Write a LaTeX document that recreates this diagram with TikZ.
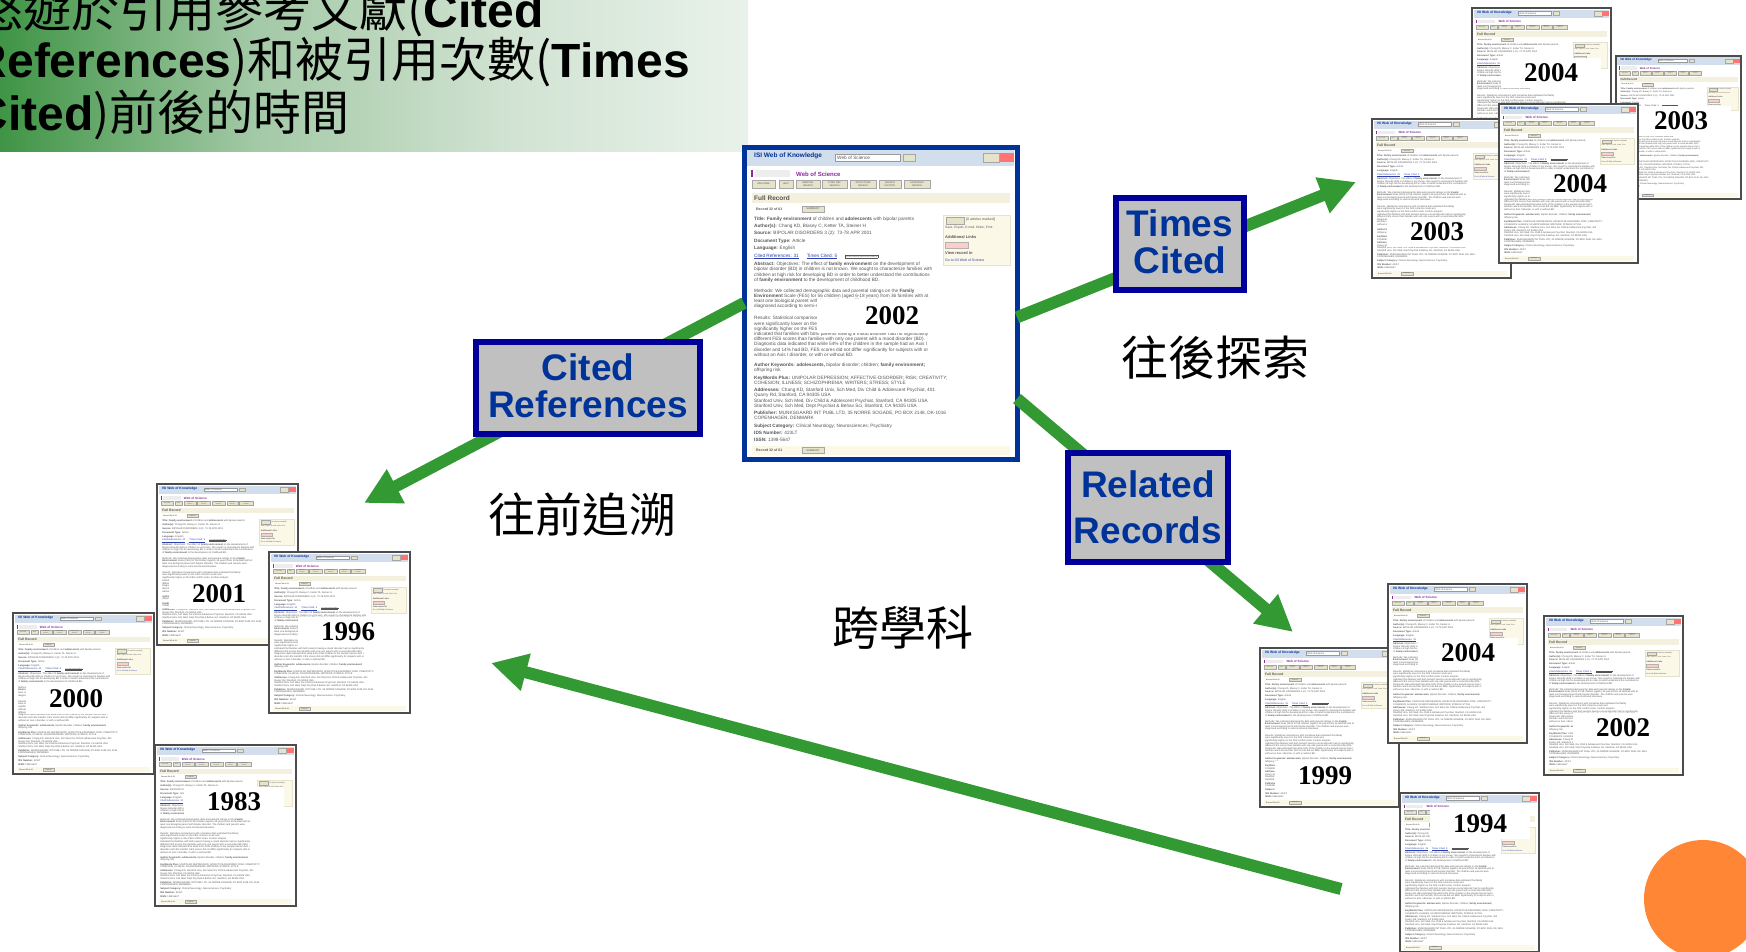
\documentclass[tikz,border=0pt]{standalone}
\usepackage{fontspec}
\setmainfont{Liberation Sans}
\newfontfamily\cjk{Noto Sans CJK TC}
\newfontfamily\yearfont{Liberation Serif}
\usetikzlibrary{positioning, arrows.meta}

\definecolor{headgreen}{HTML}{3F9445}
\definecolor{headmid}{HTML}{A3C9A6}
\definecolor{headlight}{HTML}{D0E2D1}
\definecolor{headpale}{HTML}{E9F2EA}
\definecolor{arrowgreen}{HTML}{339933}
\definecolor{boxblue}{HTML}{000099}
\definecolor{boxtext}{HTML}{003399}
\definecolor{boxgrey}{HTML}{C0C0C0}
\definecolor{frameblue}{HTML}{003399}
\definecolor{pagetitle}{HTML}{D3DEEC}
\definecolor{pagecream}{HTML}{F3F1DE}
\definecolor{pagepanel}{HTML}{FBF8E8}
\definecolor{pagebutton}{HTML}{E6E3CB}
\definecolor{pagetextgrey}{HTML}{555555}
\definecolor{pagelink}{HTML}{2A3FB0}
\definecolor{pagepurple}{HTML}{8A2A9A}
\definecolor{accentorange}{HTML}{FF8635}

\pgfdeclarehorizontalshading{headband}{100bp}{color(0bp)=(headgreen); color(25bp)=(headgreen); color(42bp)=(headmid); color(58.5bp)=(headlight); color(75bp)=(headpale); color(100bp)=(headpale)}

\newcommand{\headlatin}{\fontsize{48}{48}\selectfont\bfseries}
\newcommand{\headcjk}{\fontsize{48}{48}\selectfont\cjk}
\setlength{\fboxsep}{0.6pt}
\setlength{\fboxrule}{0.2pt}

\begin{document}
\begin{tikzpicture}[x=1pt,y=-1pt,
      linkarrow/.style={->,>={Triangle[length=36pt,width=36pt]},line width=12pt,draw=arrowgreen},
      linkbox/.style={draw=boxblue,line width=6pt,fill=boxgrey,text=boxtext,align=center,inner sep=0pt,text depth=4pt,
        font=\fontsize{37}{37}\selectfont\bfseries},
      caption/.style={inner sep=0pt,font=\fontsize{47}{47}\selectfont\cjk},
      headline/.style={anchor=base east,inner sep=0pt},
      yearlabel/.style={fill=white,inner sep=0pt,minimum width=100pt,minimum height=30pt,
        font=\fontsize{27}{27}\selectfont\yearfont\bfseries},
      pageframe/.style={draw=black!70,line width=1.5pt,fill=white,inner sep=0pt,outer sep=0pt,
        minimum width=273pt,minimum height=312pt,transform shape},
      mainpage/.style={pageframe/.append style={draw=frameblue,line width=5pt}},
      pagetext/.style={anchor=west,inner sep=0pt,transform shape,text=pagetextgrey,font=\fontsize{4.7}{5.2}\selectfont},
      pagebody/.style={anchor=north west,align=left,inner sep=0pt,transform shape,text=pagetextgrey,
        font=\fontsize{4.7}{5.2}\selectfont},
      pagebtn/.style={draw=black!35,line width=0.3pt,fill=pagebutton},
      recordpage/.pic={
        \node[pageframe] (-frame) at (138.5,158) {};
        % title bar
        \fill[pagetitle] (5,5) rectangle (272,21);
        \node[pagetext,text=boxtext,font=\fontsize{6.5}{6.5}\selectfont\bfseries] (-isi) at (12,11) {ISI Web of Knowledge};
        \filldraw[fill=white,draw=black!40,line width=0.3pt] (93,9) rectangle (158,16);
        \node[pagetext] (-search) at (95,12.5) {Web of Science};
        \filldraw[pagebtn] (161,9) rectangle (173,16);
        \filldraw[pagebtn] (241,8) rectangle (257,17);
        \fill[red!55] (258,8) rectangle (272,17);
        % logo and toolbar
        \fill[pagepurple] (9,25) rectangle (11,32);
        \fill[black!7] (13,25) rectangle (48,32);
        \node[pagetext,text=pagepurple,font=\fontsize{6}{6}\selectfont\bfseries] (-wos) at (54,29) {Web of Science};
        \foreach \xa/\xb/\toolname in {10/33/WELCOME,37/51/HELP,54/78/{GENERAL SEARCH},80/105/{CITED REF SEARCH},108/134/{STRUCTURE SEARCH},137/159/{SEARCH HISTORY},162/188/{ADVANCED SEARCH}} {
          \filldraw[pagebtn] (\xa,35) rectangle (\xb,43);
          \node[pagetext,anchor=center,text width=18pt,align=center,font=\fontsize{2.4}{2.6}\selectfont] (-tool\xa) at ({(\xa+\xb)/2},39) {\toolname};
        }
        \fill[pagecream] (10,48) rectangle (268,58);
        \node[pagetext,font=\fontsize{6.5}{6.5}\selectfont\bfseries] (-full) at (12,53) {Full Record};
        \node[pagetext,font=\fontsize{3.5}{3.5}\selectfont\bfseries] (-nav) at (14,64) {Record 32 of 61};
        \filldraw[pagebtn] (60,61) rectangle (82,67);
        \node[pagetext,anchor=center,font=\fontsize{2.6}{2.6}\selectfont] (-sum) at (71,64) {SUMMARY};
        % side panel
        \filldraw[fill=pagepanel,draw=pagebutton,line width=0.5pt] (201,70) rectangle (268,120);
        \filldraw[pagebtn] (204,72) rectangle (222,79);
        \node[pagetext,font=\fontsize{3.5}{3.5}\selectfont] (-marked) at (224,75) {[0 articles marked]};
        \node[pagetext,font=\fontsize{3.2}{3.2}\selectfont] (-save) at (203,83) {Save, Export, E-mail, Order, Print};
        \node[pagetext,font=\fontsize{4}{4}\selectfont\bfseries] (-links) at (203,92) {Additional Links};
        \filldraw[fill=red!20,draw=black!30,line width=0.3pt] (203,97) rectangle (226,103);
        \node[pagetext,font=\fontsize{4}{4}\selectfont\bfseries] (-view) at (203,108) {View record in};
        \node[pagetext,text=pagelink,font=\fontsize{3.5}{3.5}\selectfont] (-goto) at (203,115) {Go to ISI Web of Science};
        % record text
        \node[pagebody] (-body) at (12,71.5) {\textbf{Title: Family environment} of children and \textbf{adolescents} with bipolar parents\\[2.2pt]
          \textbf{Author(s):} Chang KD, Blasey C, Ketter TA, Steiner H\\[2.2pt]
          \textbf{Source:} BIPOLAR DISORDERS 3 (2): 73-78 APR 2001\\[2.2pt]
          \textbf{Document Type:} Article\\[2.2pt]
          \textbf{Language:} English\\[2.2pt]
          \textcolor{pagelink}{\underline{Cited References: 31}}\hspace{8pt}\textcolor{pagelink}{\underline{Times Cited: 5}}\hspace{8pt}\fbox{\fontsize{2.5}{2.5}\selectfont FIND RELATED RECORDS}\\[2.2pt]
          \textbf{Abstract:} Objectives: The effect of \textbf{family environment} on the development of\\
          bipolar disorder (BD) in children is not known. We sought to characterize families with\\
          children at high risk for developing BD in order to better understand the contributions\\
          of \textbf{family environment} to the development of childhood BD.\\[5.8pt]
          Methods: We collected demographic data and parental ratings on the \textbf{Family}\\
          \textbf{Environment} Scale (FES) for 56 children (aged 6-18 years) from 36 families with at\\
          least one biological parent with bipolar disorder. The children and parents were\\
          diagnosed according to semi-structured interviews.\\[6.8pt]
          Results: Statistical comparisons with normative data indicated that family\\
          were significantly lower on the FES cohesion scale and\\
          significantly higher on the FES conflict scale. Further analysis\\
          indicated that families with both parents having a mood disorder had no significantly\\
          different FES scores than families with only one parent with a mood disorder (BD).\\
          Diagnostic data indicated that while 54\% of the children in the sample had an Axis I\\
          disorder and 14\% had BD, FES scores did not differ significantly for subjects with or\\
          without an Axis I disorder, or with or without BD.\\[4.8pt]
          \textbf{Author Keywords: adolescents,} bipolar disorder; children; \textbf{family environment;}\\
          offspring risk\\[2.8pt]
          \textbf{KeyWords Plus:} UNIPOLAR DEPRESSION; AFFECTIVE-DISORDER; RISK; CREATIVITY;\\
          COHESION; ILLNESS; SCHIZOPHRENIA; WRITERS; STRESS; STYLE\\[1.8pt]
          \textbf{Addresses:} Chang KD, Stanford Univ, Sch Med, Div Child \& Adolescent Psychiat, 401\\
          Quarry Rd, Stanford, CA 94305 USA\\
          Stanford Univ, Sch Med, Div Child \& Adolescent Psychiat, Stanford, CA 94305 USA\\
          Stanford Univ, Sch Med, Dept Psychiat \& Behav Sci, Stanford, CA 94305 USA\\[1.8pt]
          \textbf{Publisher:} MUNKSGAARD INT PUBL LTD, 35 NORRE SOGADE, PO BOX 2148, DK-1016\\
          COPENHAGEN, DENMARK\\[2.8pt]
          \textbf{Subject Category:} Clinical Neurology; Neurosciences; Psychiatry\\[1.8pt]
          \textbf{IDS Number:} 423LT\\[1.8pt]
          \textbf{ISSN:} 1398-5647};
        % bottom bar
        \fill[pagepanel] (10,301) rectangle (268,310);
        \node[pagetext,font=\fontsize{3.5}{3.5}\selectfont\bfseries] (-navb) at (14,305.5) {Record 32 of 61};
        \filldraw[pagebtn] (60,302.5) rectangle (82,308.5);
        \node[pagetext,anchor=center,font=\fontsize{2.6}{2.6}\selectfont] (-sumb) at (71,305.5) {SUMMARY};
      }]

  \clip (0,0) rectangle (1746,951);

  % heading band
  \shade[shading=headband] (0,0) rectangle (748,151);
  \node[headline] (headone) at (544,27) {{\headcjk 悠遊於引用參考文獻(}{\headlatin Cited}};
  \node[headline] (headtwo) at (690,77) {{\headlatin References}{\headcjk )和被引用次數(}{\headlatin Times}};
  \node[headline] (headthree) at (350,130) {{\headlatin Cited}{\headcjk )前後的時間}};

  % times cited pages
  \pic[scale=.509] (timesa) at (1471,7) {recordpage};
  \node[yearlabel] (yeartimesa) at (1551,73) {2004};
  \pic[scale=.459] (timesb) at (1615,55) {recordpage};
  \node[yearlabel] (yeartimesb) at (1681,121) {2003};
  \pic[scale=.509] (timesc) at (1371,118) {recordpage};
  \node[yearlabel] (yeartimesc) at (1437,232) {2003};
  \pic[scale=.509] (timesd) at (1498,103) {recordpage};
  \node[yearlabel] (yeartimesd) at (1580,184) {2004};

  % related pages
  \pic[scale=.509] (relatedc) at (1259,647) {recordpage};
  \node[yearlabel] (yearrelatedc) at (1325,776) {1999};
  \pic[scale=.509] (relatedd) at (1399,792) {recordpage};
  \node[yearlabel] (yearrelatedd) at (1480,824) {1994};
  \pic[scale=.509] (relateda) at (1387,583) {recordpage};
  \node[yearlabel] (yearrelateda) at (1468,653) {2004};
  \pic[scale=.509] (relatedb) at (1543,615) {recordpage};
  \node[yearlabel] (yearrelatedb) at (1623,728) {2002};

  % cited pages
  \pic[scale=.516] (citeda) at (156,483) {recordpage};
  \node[yearlabel] (yearciteda) at (219,594) {2001};
  \pic[scale=.516] (citedb) at (268,551) {recordpage};
  \node[yearlabel] (yearcitedb) at (348,632) {1996};
  \pic[scale=.516] (citedc) at (12,612) {recordpage};
  \node[yearlabel] (yearcitedc) at (76,699) {2000};
  \pic[scale=.516] (citedd) at (154,744) {recordpage};
  \node[yearlabel] (yearcitedd) at (234,802) {1983};

  % main record
  \pic[mainpage] (main) at (742,145) {recordpage};
  \node[yearlabel,minimum width=150pt,minimum height=34pt] (yearmain) at (892,316) {2002};

  \coordinate (citedtip) at (364,503);
  \coordinate (timestip) at (1356,182);
  \coordinate (relatedtip) at (1293,632);
  \coordinate (crosstail) at (1341,889);
  \coordinate (crosstip) at (491,663);

  \draw[linkarrow] (main-frame.west) -- (citedtip);
  \draw[linkarrow] (main-frame.-6) -- (timestip);
  \draw[linkarrow] (main-frame.-35) -- (relatedtip);
  \draw[linkarrow] (crosstail) -- (crosstip);

  \node[linkbox,minimum width=224pt,minimum height=92pt] (citedbox) at (588,388) {Cited\\References};
  \node[linkbox,minimum width=128pt,minimum height=92pt] (timesbox) at (1180,244) {Times\\Cited};
  \node[linkbox,minimum width=160pt,minimum height=109pt,text depth=0pt] (relatedbox) at (1148,507.5) {Related\\[9pt]Records};

  \node[caption] (backcaption) [below=56pt of citedbox, xshift=-6pt] {往前追溯};
  \node[caption] (forwardcaption) [below=43pt of timesbox, xshift=35pt] {往後探索};
  \node[caption] (crosscaption) [below left=41pt and 91pt of relatedbox] {跨學科};

  \fill[accentorange] (1703,899) circle (59);
\end{tikzpicture}
\end{document}
